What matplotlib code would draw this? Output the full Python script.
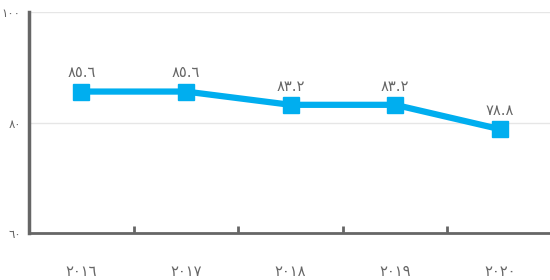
import matplotlib
matplotlib.use("Agg")
import matplotlib.pyplot as plt
from matplotlib.ticker import FixedLocator

# data
years = ["٢٠١٦", "٢٠١٧", "٢٠١٨", "٢٠١٩", "٢٠٢٠"]
values = [85.6, 85.6, 83.2, 83.2, 78.8]
value_labels = ["٨٥.٦", "٨٥.٦", "٨٣.٢", "٨٣.٢", "٧٨.٨"]
y_ticks = [60, 80, 100]
y_tick_labels = ["٦٠", "٨٠", "١٠٠"]

blue = "#00AEEF"
grey = "#666666"

plt.rcParams['font.family'] = ['DejaVu Sans']

fig = plt.figure(figsize=(5.5, 2.8), dpi=100)
ax = fig.add_axes([29 / 550, 47 / 280, 523 / 550, 221 / 280])

x = list(range(len(years)))
ax.plot(x, values, color=blue, lw=4.5, marker="s", markersize=12,
        markerfacecolor=blue, markeredgecolor=blue, zorder=3, clip_on=False)

# value labels above the points
for xi, v, lab in zip(x, values, value_labels):
    ax.annotate(lab, (xi, v), xytext=(0, 8), textcoords="offset points",
                ha="center", va="bottom", fontsize=10.5, color=grey)

ax.set_xlim(-0.5, len(years) - 0.5)
ax.set_ylim(60, 100)

ax.set_yticks(y_ticks)
ax.set_yticklabels(y_tick_labels, fontsize=8.5, color=grey)
ax.tick_params(axis="y", length=0, pad=6)

ax.set_xticks(x)
ax.set_xticklabels(years, fontsize=10.5, color=grey)
ax.tick_params(axis="x", which="major", length=0, pad=22)
ax.xaxis.set_minor_locator(FixedLocator([i + 0.5 for i in x[:-1]]))
ax.tick_params(axis="x", which="minor", direction="in", length=5, width=2, color=grey)

ax.grid(axis="y", color="#e6e6e6", lw=1)
ax.set_axisbelow(True)

for s in ["top", "right"]:
    ax.spines[s].set_visible(False)
ax.spines["left"].set_color(grey)
ax.spines["left"].set_linewidth(2.5)
ax.spines["bottom"].set_color(grey)
ax.spines["bottom"].set_linewidth(2)

fig.savefig("out.png", dpi=100)
